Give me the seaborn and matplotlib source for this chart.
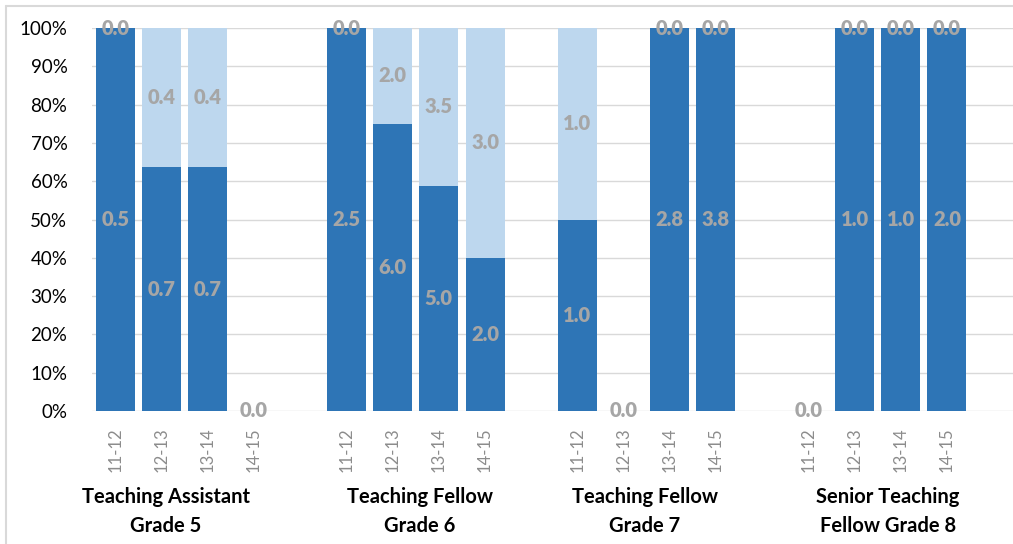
import matplotlib
matplotlib.use("Agg")
import matplotlib.pyplot as plt
from matplotlib.lines import Line2D
from matplotlib.ticker import PercentFormatter
import numpy as np
import pandas as pd
import seaborn as sns

# Staff FTE by grade and academic year: two stacked components per bar
grades = [
    "Teaching Assistant\nGrade 5",
    "Teaching Fellow\nGrade 6",
    "Teaching Fellow\nGrade 7",
    "Senior Teaching\nFellow Grade 8",
]
years = ["11-12", "12-13", "13-14", "14-15"]
dark_fte = [
    [0.5, 0.7, 0.7, 0.0],
    [2.5, 6.0, 5.0, 2.0],
    [1.0, 0.0, 2.8, 3.8],
    [0.0, 1.0, 1.0, 2.0],
]
light_fte = [
    [0.0, 0.4, 0.4, 0.0],
    [0.0, 2.0, 3.5, 3.0],
    [1.0, 0.0, 0.0, 0.0],
    [0.0, 0.0, 0.0, 0.0],
]

DARK = "#2E75B6"
LIGHT = "#BDD7EE"
LABEL_GREY = "#A6A6A6"
GRID = "#D9D9D9"

sns.set_theme(style="white")
plt.rcParams["font.family"] = ["Lato", "DejaVu Sans"]

# one slot per year, with an empty slot between grade groups
rows = []
for g, grade in enumerate(grades):
    for y, year in enumerate(years):
        d, l = dark_fte[g][y], light_fte[g][y]
        total = d + l
        rows.append({
            "grade": grade, "year": year, "slot": g * (len(years) + 1) + y,
            "dark": d, "light": l,
            "dark_share": d / total if total else 0.0,
            "total_share": 1.0 if total else 0.0,
        })
df = pd.DataFrame(rows)

fig = plt.figure(figsize=(10.13, 5.44), dpi=100)
ax = fig.add_axes([0.0912, 0.2445, 0.9088, 0.704])

bar_w = 0.844
sns.barplot(data=df, x="slot", y="total_share", native_scale=True, color=LIGHT,
            width=bar_w, linewidth=0, saturation=1, ax=ax, errorbar=None)
sns.barplot(data=df, x="slot", y="dark_share", native_scale=True, color=DARK,
            width=bar_w, linewidth=0, saturation=1, ax=ax, errorbar=None)

# value labels centred in each segment
label_kw = dict(ha="center", va="center", color=LABEL_GREY, fontsize=14.5,
                fontweight="heavy")
for r in df.itertuples():
    ax.text(r.slot, r.dark_share / 2, f"{r.dark:.1f}", **label_kw)
    if r.total_share > 0:
        ax.text(r.slot, (r.dark_share + r.total_share) / 2, f"{r.light:.1f}",
                **label_kw)

ax.set_xlim(-0.5, -0.5 + 19.93)
ax.set_ylim(0, 1)
ax.yaxis.set_major_locator(plt.MultipleLocator(0.1))
ax.yaxis.set_major_formatter(PercentFormatter(1.0, decimals=0))
ax.grid(axis="y", color=GRID, linewidth=1)
ax.set_axisbelow(True)
for s in ax.spines.values():
    s.set_visible(False)

ax.set_xticks(df["slot"])
ax.set_xticklabels(df["year"], rotation=90, color="#8C8C8C", fontsize=12)
ax.tick_params(axis="x", length=0, pad=12)
ax.tick_params(axis="y", length=0, pad=18, labelsize=13.5, labelcolor="black")
ax.set_xlabel("")
ax.set_ylabel("")

# group captions under each block of years
group_x = [1.09, 6.59, 11.46, 16.72]
for gx, grade in zip(group_x, grades):
    ax.text(gx, -0.262, grade, transform=ax.get_xaxis_transform(), ha="center",
            va="center", fontsize=14.5, fontweight="bold", color="black",
            linespacing=1.6)

# chart frame
fig.add_artist(Line2D([6 / 1013, 6 / 1013], [0, 1 - 6 / 544], color=GRID, lw=1.5,
                      transform=fig.transFigure))
fig.add_artist(Line2D([6 / 1013, 1], [1 - 6 / 544, 1 - 6 / 544], color=GRID, lw=1.5,
                      transform=fig.transFigure))

fig.savefig("out.png", dpi=100)
